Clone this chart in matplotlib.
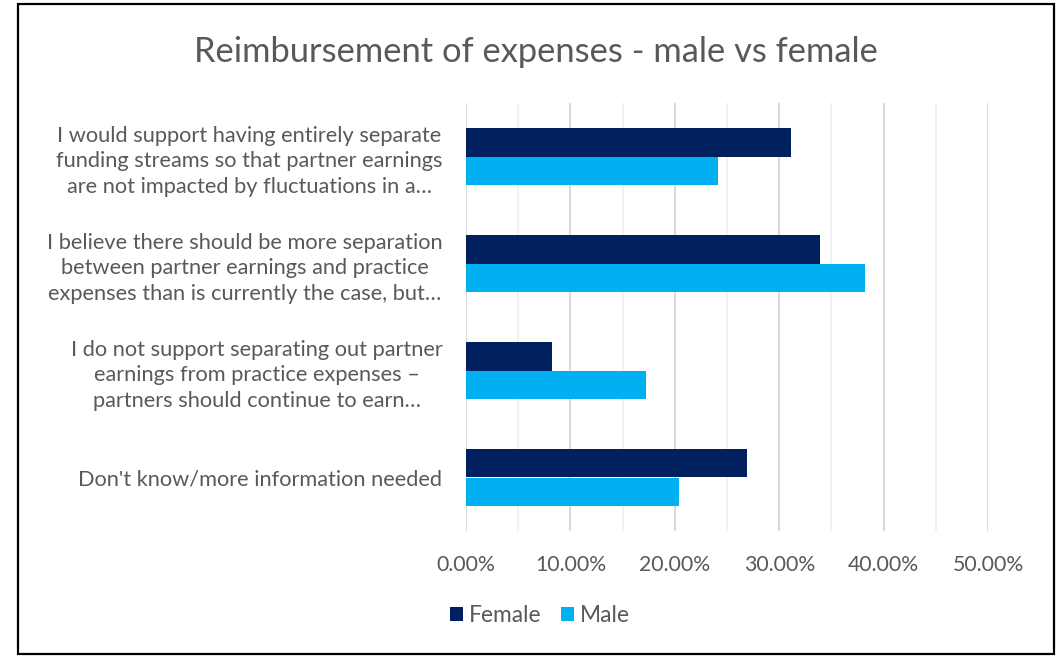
import matplotlib.pyplot as plt
from matplotlib.patches import Rectangle
from matplotlib.ticker import MultipleLocator, PercentFormatter
import numpy as np

# survey answers, top to bottom
categories = [
    "I would support having entirely separate\nfunding streams so that partner earnings\nare not impacted by fluctuations in a\u2026",
    "I believe there should be more separation\nbetween partner earnings and practice\nexpenses than is currently the case, but\u2026",
    "I do not support separating out partner\nearnings from practice expenses \u2013\npartners should continue to earn\u2026",
    "Don't know/more information needed",
]
female = [31.1, 33.9, 8.2, 26.9]
male = [24.1, 38.2, 17.2, 20.4]

plt.rcParams['font.family'] = ['Lato', 'DejaVu Sans']
grey = '#595959'

W, H = 1061, 656
fig = plt.figure(figsize=(W / 100, H / 100), dpi=100)
ax = fig.add_axes([466 / W, 125 / H, 522 / W, 428 / H])

y = np.arange(len(categories))
h = 0.262
ax.barh(y - h / 2, female, height=h, color='#002060', label='Female', zorder=3)
ax.barh(y + h / 2, male, height=h, color='#00B0F0', label='Male', zorder=3)

ax.set_ylim(len(categories) - 0.5, -0.5)
ax.set_xlim(0, 50)
ax.set_yticks(y)
ax.set_yticklabels(categories, multialignment='center', color=grey, fontsize=15.7)
for t in ax.get_yticklabels():
    t.set_linespacing(1.36)
ax.xaxis.set_major_locator(MultipleLocator(10))
ax.xaxis.set_minor_locator(MultipleLocator(5))
ax.xaxis.set_major_formatter(PercentFormatter(decimals=2))
ax.tick_params(axis='x', which='both', length=0, pad=17, labelsize=15.3, labelcolor=grey)
ax.tick_params(axis='y', length=0, pad=17)

ax.grid(axis='x', which='major', color='#d9d9d9', lw=1.4, zorder=0)
ax.grid(axis='x', which='minor', color='#efefef', lw=1.2, zorder=0)
for s in ax.spines.values():
    s.set_visible(False)

fig.text(536 / W, 1 - 62 / H, 'Reimbursement of expenses - male vs female',
         ha='center', va='baseline', fontsize=24.8, color=grey)

fig.legend(loc='center', bbox_to_anchor=(540 / W, 1 - 616 / H), ncol=2,
           frameon=False, fontsize=16.4, labelcolor=grey, handlelength=0.57,
           handleheight=0.57, handletextpad=0.26, columnspacing=0.83)

# chart frame
fig.add_artist(Rectangle((18 / W, 2 / H), 1036 / W, 650 / H, transform=fig.transFigure,
                         fill=False, edgecolor='black', lw=1.6))

fig.savefig('out.png', dpi=100)
